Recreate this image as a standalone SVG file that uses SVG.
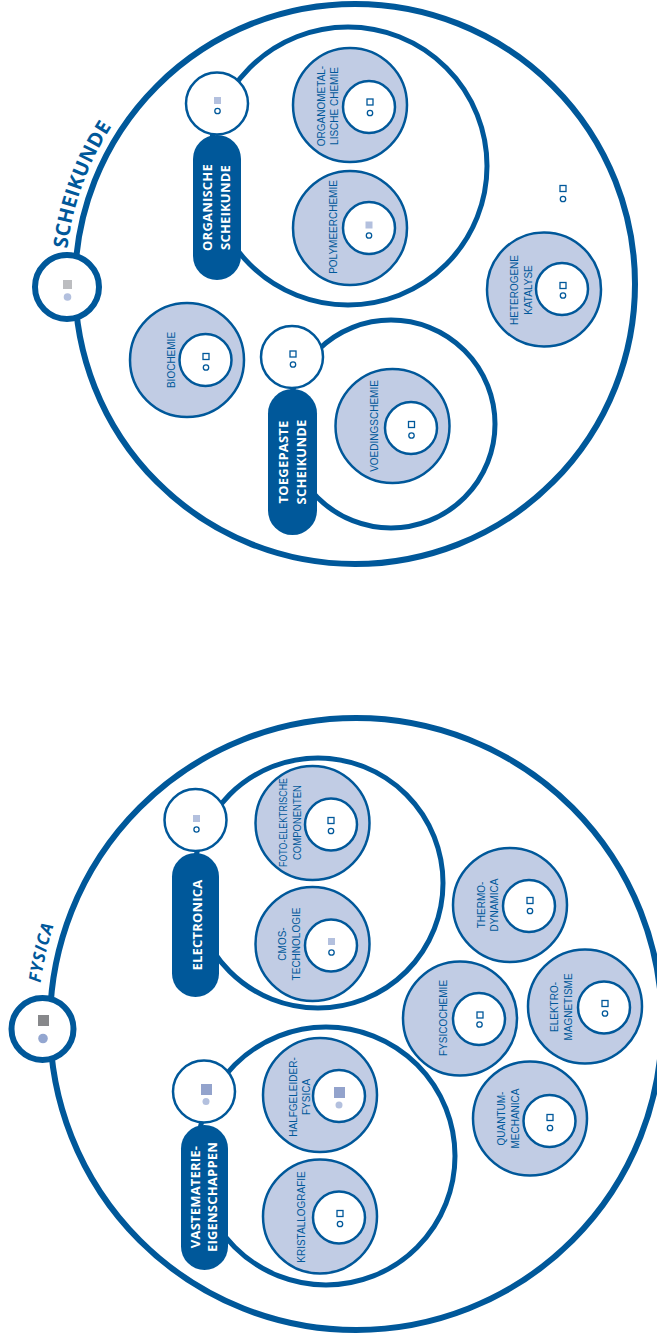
<svg xmlns="http://www.w3.org/2000/svg" width="657" height="1338" viewBox="0 0 657 1338">
<style>
.ring{fill:none;stroke:#00589a;stroke-width:6}
.inner{fill:none;stroke:#00589a;stroke-width:5}
.root{fill:#fff;stroke:#00589a;stroke-width:6}
.hub{fill:#fff;stroke:#00589a;stroke-width:2.5}
.pill{fill:#00589a}
.sub{fill:#c1cce4;stroke:#00589a;stroke-width:2.5}
.core{fill:#fff;stroke:#00589a;stroke-width:2.5}
.osq{fill:#fff;stroke:#00589a;stroke-width:1.3}
.oci{fill:#fff;stroke:#00589a;stroke-width:1.3}
.fsq{fill:#b3c0de}
.lbl{font-family:"Liberation Sans",Arial,sans-serif;font-size:10px;fill:#00589a;text-anchor:middle}
.pt{font-family:"Open Sans","Liberation Sans",sans-serif;font-weight:700;font-size:13px;fill:#fff;text-anchor:middle;letter-spacing:0.2px}
.title{font-family:"Open Sans","Liberation Sans",sans-serif;font-weight:700;fill:#00589a}
</style>
<defs>
<path id="arcS" d="M 67.2 248.7 A 290 290 0 0 1 255.8 11.5"/>
<path id="arcF" d="M 40.6 983 A 318 318 0 0 1 151.6 780.4"/>
</defs>

<!-- SCHEIKUNDE -->
<g id="scheikunde">
<circle class="ring" cx="355" cy="284" r="280"/>
<text class="title" font-size="20" letter-spacing="0.4"><textPath href="#arcS">SCHEIKUNDE</textPath></text>
<circle class="root" cx="67" cy="287" r="32"/>
<rect x="63" y="280" width="9" height="9" fill="#bcbdc0"/>
<circle cx="67.5" cy="297" r="3.8" fill="#b3c0de"/>
</g>

<g id="organische-scheikunde">
<circle class="inner" cx="348" cy="166" r="139"/>
<circle class="hub" cx="217" cy="103.5" r="31"/>
<rect class="fsq" x="214" y="97" width="7" height="7"/>
<circle class="oci" cx="217.5" cy="111" r="2.7"/>
<rect class="pill" x="193" y="135" width="48" height="145" rx="24"/>
<text class="pt" transform="translate(212,207.5) rotate(-90)"><tspan x="0" y="0">ORGANISCHE</tspan><tspan x="0" y="18">SCHEIKUNDE</tspan></text>
</g>

<g id="organometallische-chemie">
<circle class="sub" cx="350" cy="105" r="57"/>
<circle class="core" cx="369" cy="107" r="26"/>
<rect class="osq" x="367" y="99" width="6" height="6"/>
<circle class="oci" cx="370" cy="113" r="2.7"/>
<text class="lbl" transform="translate(325,106) rotate(-90)"><tspan x="0" y="0">ORGANOMETAL-</tspan><tspan x="0" y="13">LISCHE CHEMIE</tspan></text>
</g>

<g id="polymeerchemie">
<circle class="sub" cx="350" cy="228" r="57"/>
<circle class="core" cx="369" cy="228" r="26"/>
<rect class="fsq" x="365.5" y="221.5" width="7" height="7"/>
<circle class="oci" cx="369" cy="235.5" r="2.7"/>
<text class="lbl" transform="translate(337,227) rotate(-90)">POLYMEERCHEMIE</text>
</g>

<g id="biochemie">
<circle class="sub" cx="187" cy="360" r="57"/>
<circle class="core" cx="205.5" cy="360" r="26"/>
<rect class="osq" x="203" y="353.5" width="6" height="6"/>
<circle class="oci" cx="206" cy="367.5" r="2.7"/>
<text class="lbl" transform="translate(175,360) rotate(-90)">BIOCHEMIE</text>
</g>

<g id="toegepaste-scheikunde">
<circle class="inner" cx="391" cy="424" r="104"/>
<circle class="hub" cx="292" cy="357" r="31"/>
<rect class="osq" x="290" y="351" width="6" height="6"/>
<circle class="oci" cx="293" cy="364.5" r="2.7"/>
<rect class="pill" x="268" y="389" width="49" height="146" rx="24.5"/>
<text class="pt" transform="translate(288,462) rotate(-90)"><tspan x="0" y="0">TOEGEPASTE</tspan><tspan x="0" y="18">SCHEIKUNDE</tspan></text>
</g>

<g id="voedingschemie">
<circle class="sub" cx="392.5" cy="426" r="57"/>
<circle class="core" cx="411" cy="428" r="26"/>
<rect class="osq" x="408.5" y="421.5" width="6" height="6"/>
<circle class="oci" cx="411.5" cy="435.5" r="2.7"/>
<text class="lbl" transform="translate(378,426) rotate(-90)">VOEDINGSCHEMIE</text>
</g>

<g id="heterogene-katalyse">
<circle class="sub" cx="544" cy="289.5" r="57"/>
<circle class="core" cx="562" cy="289" r="26"/>
<rect class="osq" x="560" y="282.5" width="6" height="6"/>
<circle class="oci" cx="563" cy="295.5" r="2.7"/>
<text class="lbl" transform="translate(518,290) rotate(-90)"><tspan x="0" y="0">HETEROGENE</tspan><tspan x="0" y="14">KATALYSE</tspan></text>
</g>

<g id="scheikunde-icon">
<rect class="osq" x="560" y="185.5" width="6" height="6"/>
<circle class="oci" cx="563" cy="199" r="2.7"/>
</g>

<!-- FYSICA -->
<g id="fysica">
<circle class="ring" cx="356" cy="1024" r="306"/>
<text class="title" font-size="17" font-style="italic" letter-spacing="1"><textPath href="#arcF">FYSICA</textPath></text>
<circle class="root" cx="42.5" cy="1029" r="31"/>
<rect x="38" y="1015" width="11" height="11" fill="#87888b"/>
<circle cx="43" cy="1038.5" r="4.8" fill="#93a6d0"/>
</g>

<g id="electronica">
<circle class="inner" cx="318" cy="883" r="125"/>
<circle class="hub" cx="195.5" cy="820" r="31"/>
<rect class="fsq" x="193" y="815" width="7" height="7"/>
<circle class="oci" cx="196.5" cy="829.5" r="2.6"/>
<rect class="pill" x="172" y="853" width="47" height="144" rx="23.5"/>
<text class="pt" transform="translate(202,925) rotate(-90)">ELECTRONICA</text>
</g>

<g id="foto-elektrische-componenten">
<circle class="sub" cx="312.5" cy="823" r="57"/>
<circle class="core" cx="331" cy="824.5" r="26"/>
<rect class="osq" x="328" y="817.5" width="6" height="6"/>
<circle class="oci" cx="331" cy="831" r="2.7"/>
<text class="lbl" font-size="9.5" transform="translate(287,822.5) rotate(-90)"><tspan x="0" y="0" textLength="89" lengthAdjust="spacingAndGlyphs">FOTO-ELEKTRISCHE</tspan><tspan x="0" y="14" textLength="75" lengthAdjust="spacingAndGlyphs">COMPONENTEN</tspan></text>
</g>

<g id="cmos-technologie">
<circle class="sub" cx="312.5" cy="944" r="57"/>
<circle class="core" cx="331" cy="945.5" r="26"/>
<rect class="fsq" x="328" y="938" width="7" height="7"/>
<circle class="oci" cx="331.5" cy="952.5" r="2.7"/>
<text class="lbl" transform="translate(285.5,944) rotate(-90)"><tspan x="0" y="0">CMOS-</tspan><tspan x="0" y="14.5">TECHNOLOGIE</tspan></text>
</g>

<g id="thermodynamica">
<circle class="sub" cx="510" cy="905" r="57"/>
<circle class="core" cx="529" cy="906" r="26"/>
<rect class="osq" x="527" y="897.5" width="6" height="6"/>
<circle class="oci" cx="530" cy="911" r="2.7"/>
<text class="lbl" transform="translate(485,905) rotate(-90)"><tspan x="0" y="0">THERMO-</tspan><tspan x="0" y="13">DYNAMICA</tspan></text>
</g>

<g id="fysicochemie">
<circle class="sub" cx="460" cy="1018.5" r="57"/>
<circle class="core" cx="479" cy="1019" r="26"/>
<rect class="osq" x="477" y="1012" width="6" height="6"/>
<circle class="oci" cx="479.5" cy="1024.5" r="2.7"/>
<text class="lbl" transform="translate(447,1018) rotate(-90)">FYSICOCHEMIE</text>
</g>

<g id="elektromagnetisme">
<circle class="sub" cx="585" cy="1006.5" r="57"/>
<circle class="core" cx="604" cy="1007.5" r="26"/>
<rect class="osq" x="602" y="1000.5" width="6" height="6"/>
<circle class="oci" cx="605" cy="1013.5" r="2.7"/>
<text class="lbl" transform="translate(558,1007) rotate(-90)"><tspan x="0" y="0">ELEKTRO-</tspan><tspan x="0" y="14">MAGNETISME</tspan></text>
</g>

<g id="quantummechanica">
<circle class="sub" cx="530" cy="1118.5" r="57"/>
<circle class="core" cx="549.5" cy="1121" r="26"/>
<rect class="osq" x="547" y="1114.5" width="6" height="6"/>
<circle class="oci" cx="550" cy="1128" r="2.7"/>
<text class="lbl" transform="translate(505,1118.5) rotate(-90)"><tspan x="0" y="0">QUANTUM-</tspan><tspan x="0" y="14">MECHANICA</tspan></text>
</g>

<g id="vastematerie-eigenschappen">
<circle class="inner" cx="326" cy="1156" r="129"/>
<circle class="hub" cx="204" cy="1091.5" r="31"/>
<rect x="201" y="1084" width="11" height="11" fill="#93a3cc"/>
<circle cx="206" cy="1101.5" r="3.5" fill="#b3c0de"/>
<rect class="pill" x="181" y="1125" width="47" height="145" rx="23.5"/>
<text class="pt" transform="translate(200,1197) rotate(-90)"><tspan x="0" y="0">VASTEMATERIE-</tspan><tspan x="0" y="17">EIGENSCHAPPEN</tspan></text>
</g>

<g id="halfgeleiderfysica">
<circle class="sub" cx="320" cy="1095" r="57"/>
<circle class="core" cx="339" cy="1096" r="26"/>
<rect x="334" y="1087" width="11" height="11" fill="#93a3cc"/>
<circle cx="339" cy="1105" r="3.5" fill="#b3c0de"/>
<text class="lbl" transform="translate(297,1097) rotate(-90)"><tspan x="0" y="0">HALFGELEIDER-</tspan><tspan x="0" y="13">FYSICA</tspan></text>
</g>

<g id="kristallografie">
<circle class="sub" cx="320" cy="1216.5" r="57"/>
<circle class="core" cx="339" cy="1217.5" r="26"/>
<rect class="osq" x="337" y="1210.5" width="6" height="6"/>
<circle class="oci" cx="340" cy="1224" r="2.7"/>
<text class="lbl" transform="translate(305,1217) rotate(-90)">KRISTALLOGRAFIE</text>
</g>
</svg>
